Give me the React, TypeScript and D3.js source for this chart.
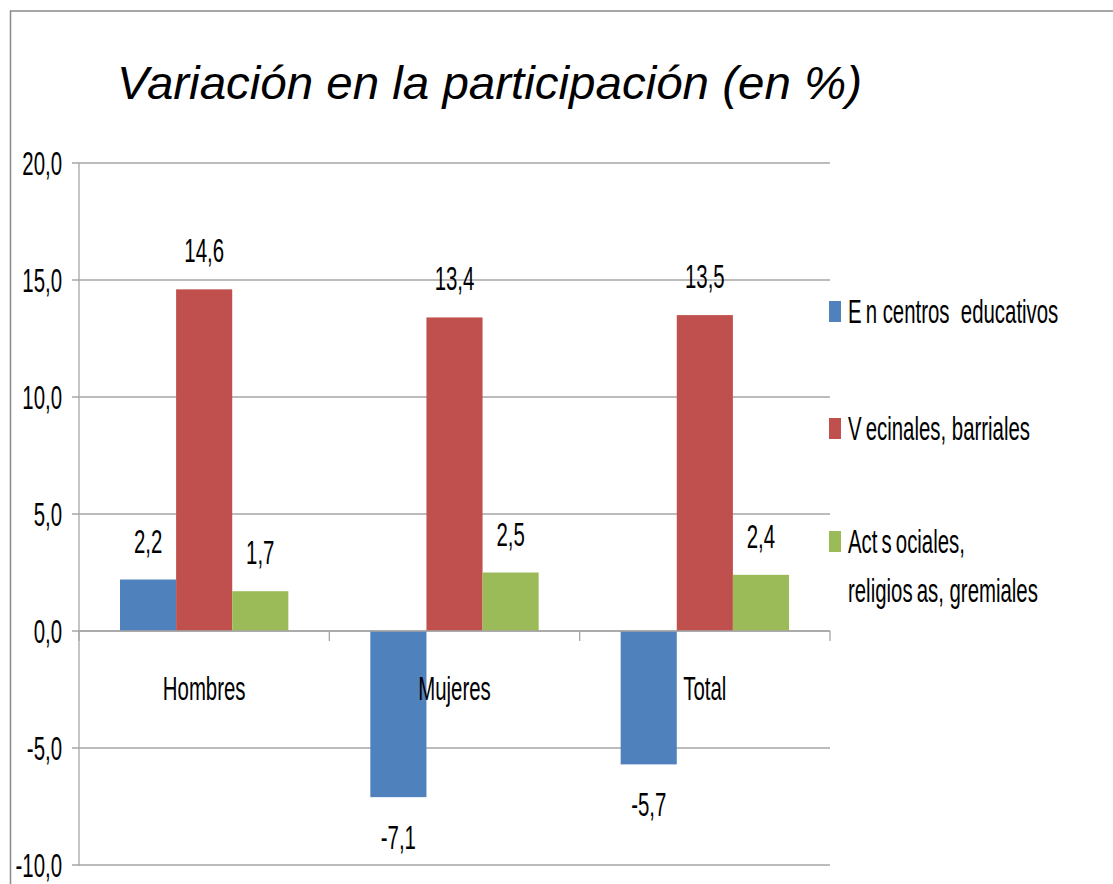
import React from "react";
import * as d3 from "d3";

const categories = ["Hombres", "Mujeres", "Total"];
const seriesNames = ["En centros educativos", "Vecinales, barriales", "Act sociales, religiosas, gremiales"];
const educativos = [2.2, -7.1, -5.7];
const vecinales = [14.6, 13.4, 13.5];
const sociales = [1.7, 2.5, 2.4];
const yTicks = [20, 15, 10, 5, 0, -5, -10];
const colors = ["#4F81BD", "#C0504D", "#9BBB59"];
const legendLines = [["E\u2009n centros  educativos"], ["V\u2009ecinales, barriales"], ["Act\u2009s\u2009ociales,", "religios\u2009as, gremiales"]];

const W = 1113, H = 884;
const FONT = "'Liberation Sans', Arial, sans-serif";
const SX = 0.6;

function NText({ x, y, anchor = "start", size = 34, children }: any) {
  return (
    <text
      transform={`translate(${x},${y}) scale(${SX},1)`}
      textAnchor={anchor}
      fontFamily={FONT}
      fontSize={size}
      fill="#000"
      style={{ whiteSpace: "pre" }}
    >
      {children}
    </text>
  );
}

export default function App() {
  const series = [educativos, vecinales, sociales];
  const left = 79, right = 830, top = 163, bottom = 865;
  const y = d3.scaleLinear().domain([-10, 20]).range([bottom, top]);
  const x0 = d3.scaleBand().domain(categories).range([left, right]).paddingInner(0).paddingOuter(0);
  const x1 = d3.scaleBand().domain(["0", "1", "2"]).range([41, x0.bandwidth() - 41]);
  const fmt = (v: number) => d3.format(".1f")(v).replace(".", ",").replace("\u2212", "-");

  return (
    <svg width={W} height={H} style={{ position: "absolute", left: 0, top: 0, background: "#fff" }}>
      <rect x={10.5} y={11} width={W + 20} height={H + 20} fill="none" stroke="#8a8a8a" strokeWidth={1.5} />
      <text x={117} y={99} fontFamily={FONT} fontStyle="italic" fontSize={47} fill="#000" textLength={745} lengthAdjust="spacingAndGlyphs">
        Variación en la participación (en %)
      </text>
      {yTicks.map((t) => (
        <g key={t}>
          <line x1={72} x2={right} y1={y(t)} y2={y(t)} stroke="#a6a6a6" strokeWidth={1.3} />
          <NText x={62} y={y(t) + 12} anchor="end">{fmt(t)}</NText>
        </g>
      ))}
      <line x1={left} x2={left} y1={top} y2={bottom + 1} stroke="#a6a6a6" strokeWidth={1.3} />
      {series.map((vals, si) =>
        categories.map((c, ci) => {
          const v = vals[ci];
          const bx = (x0(c) as number) + (x1(String(si)) as number);
          const bw = x1.bandwidth();
          return (
            <rect key={`${si}-${ci}`} x={bx} y={Math.min(y(v), y(0))} width={bw} height={Math.abs(y(v) - y(0))} fill={colors[si]} />
          );
        })
      )}
      <line x1={left} x2={right} y1={y(0)} y2={y(0)} stroke="#a6a6a6" strokeWidth={1.3} />
      {[0, 1, 2, 3].map((i) => {
        const xx = left + i * x0.bandwidth();
        return <line key={i} x1={xx} x2={xx} y1={y(0)} y2={y(0) + 10} stroke="#a6a6a6" strokeWidth={1.3} />;
      })}
      {categories.map((c) => (
        <NText key={c} x={(x0(c) as number) + x0.bandwidth() / 2} y={700} anchor="middle">{c}</NText>
      ))}
      {series.map((vals, si) =>
        categories.map((c, ci) => {
          const v = vals[ci];
          const cx = (x0(c) as number) + (x1(String(si)) as number) + x1.bandwidth() / 2;
          const ly = v >= 0 ? y(v) - 27 : y(v) + 52;
          return <NText key={`l${si}-${ci}`} x={cx} y={ly} anchor="middle">{fmt(v)}</NText>;
        })
      )}
      {seriesNames.map((s, i) => {
        const base = [323, 440, 553][i];
        return (
          <g key={s}>
            <rect x={829} y={base - 22} width={12} height={21} fill={colors[i]} />
            {legendLines[i].map((ln, li) => (
              <NText key={li} x={848} y={base + li * 49}>{ln}</NText>
            ))}
          </g>
        );
      })}
    </svg>
  );
}
